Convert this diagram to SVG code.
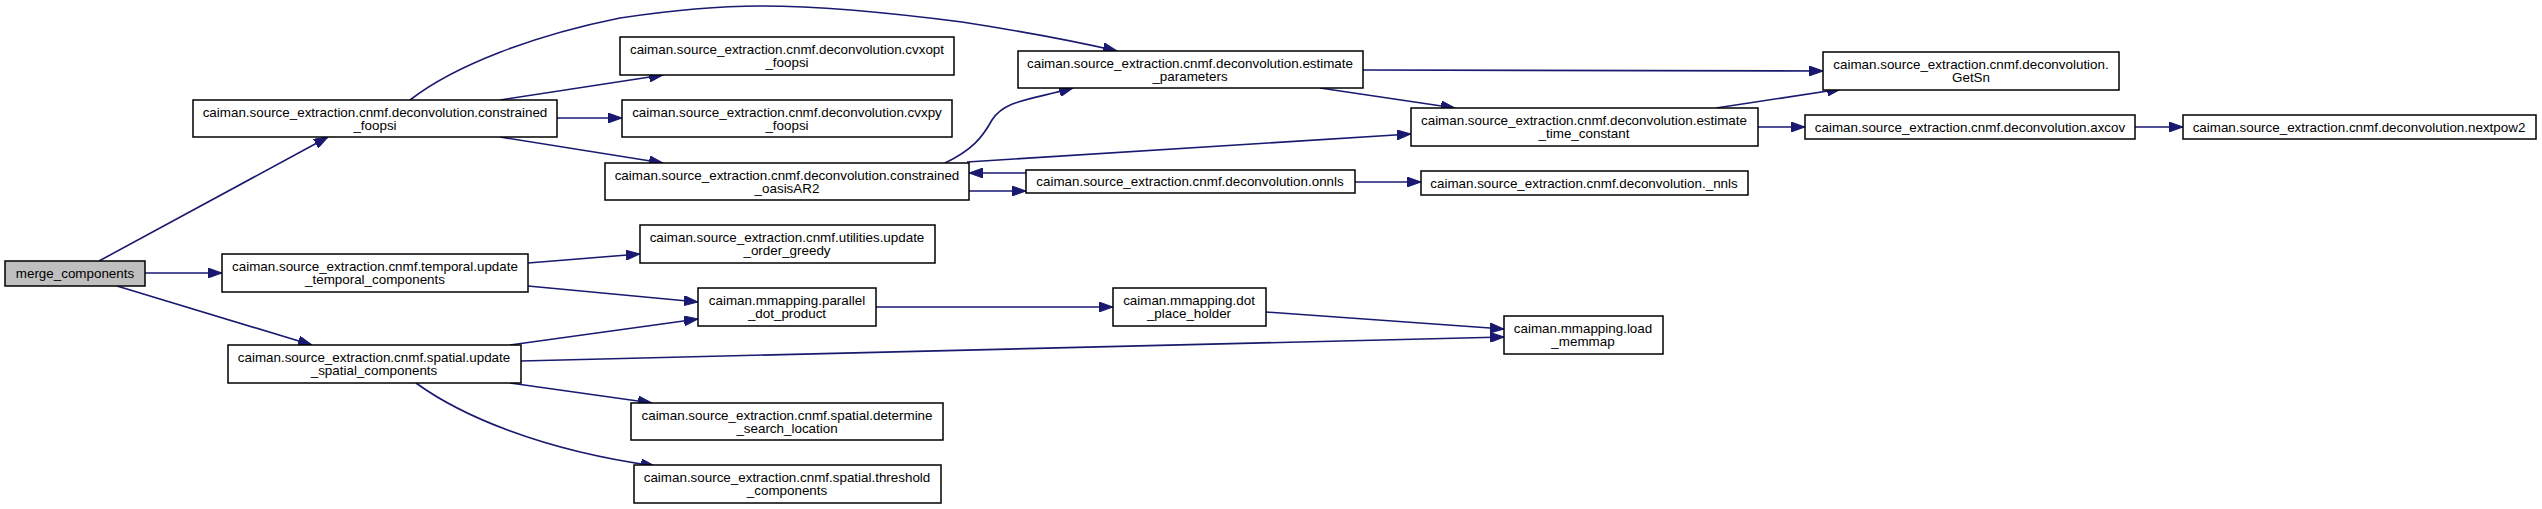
<svg xmlns="http://www.w3.org/2000/svg" width="2542" height="509" viewBox="0 0 2542 509">
<style>
.n rect{fill:#ffffff;stroke:#000000;stroke-width:1.5}
.n.root rect{fill:#bfbfbf}
.n text{font-family:"Liberation Sans",Arial,sans-serif;font-size:13.4px;fill:#000000;text-anchor:middle}
.e path{fill:none;stroke:#191970;stroke-width:1.6;marker-end:url(#arr)}
</style>
<defs>
<marker id="arr" markerUnits="userSpaceOnUse" markerWidth="15" markerHeight="10" refX="14" refY="5" orient="auto">
<path d="M0,0 L14,5 L0,10 z" fill="#191970" stroke="#191970" stroke-width="1"/>
</marker>
</defs>
<rect width="2542" height="509" fill="#ffffff"/>
<g id="connectors" class="e">
<path d="M99,261 L328,137"/>
<path d="M145,273 L222,273"/>
<path d="M117,286 L312,345"/>
<path d="M500,100 L663,75"/>
<path d="M557,118 L622,118"/>
<path d="M500,137 L663,163"/>
<path d="M410,100 C455,65 535,35 620,18 C680,9 720,6 760,6 C830,6 900,14 962,22 C1020,31 1070,40 1117,51"/>
<path d="M945,163 C972,150 982,138 992,120 C1005,100 1030,100 1073,88"/>
<path d="M967,162 L1411,134"/>
<path d="M969,191 L1026,191"/>
<path d="M1026,173 L969,173"/>
<path d="M1355,182 L1421,182"/>
<path d="M1363,70 L1823,71"/>
<path d="M1320,88 L1455,108"/>
<path d="M1716,108 L1841,89"/>
<path d="M1758,127 L1805,127"/>
<path d="M2135,127 L2183,127"/>
<path d="M528,263 L640,254"/>
<path d="M528,286 L698,302"/>
<path d="M510,345 L698,319"/>
<path d="M521,361 L1504,337"/>
<path d="M510,383 L652,403"/>
<path d="M416,383 C460,415 540,450 655,466"/>
<path d="M876,307 L1113,307"/>
<path d="M1266,312 L1504,329"/>
</g>
<g id="merge_components" class="n root"><rect x="5" y="261" width="140" height="25"/><text x="75" y="278">merge_components</text></g>
<g id="constrained_foopsi" class="n"><rect x="193" y="100" width="364" height="37"/><text x="375" y="117">caiman.source_extraction.cnmf.deconvolution.constrained</text><text x="375" y="130">_foopsi</text></g>
<g id="cvxopt_foopsi" class="n"><rect x="620" y="37" width="334" height="38"/><text x="787" y="54">caiman.source_extraction.cnmf.deconvolution.cvxopt</text><text x="787" y="67">_foopsi</text></g>
<g id="cvxpy_foopsi" class="n"><rect x="622" y="100" width="330" height="37"/><text x="787" y="117">caiman.source_extraction.cnmf.deconvolution.cvxpy</text><text x="787" y="130">_foopsi</text></g>
<g id="constrained_oasisAR2" class="n"><rect x="605" y="163" width="364" height="37"/><text x="787" y="180">caiman.source_extraction.cnmf.deconvolution.constrained</text><text x="787" y="193">_oasisAR2</text></g>
<g id="update_order_greedy" class="n"><rect x="640" y="225" width="295" height="38"/><text x="787" y="242">caiman.source_extraction.cnmf.utilities.update</text><text x="787" y="255">_order_greedy</text></g>
<g id="update_temporal_components" class="n"><rect x="222" y="254" width="306" height="38"/><text x="375" y="271">caiman.source_extraction.cnmf.temporal.update</text><text x="375" y="284">_temporal_components</text></g>
<g id="parallel_dot_product" class="n"><rect x="698" y="288" width="178" height="38"/><text x="787" y="305">caiman.mmapping.parallel</text><text x="787" y="318">_dot_product</text></g>
<g id="update_spatial_components" class="n"><rect x="228" y="345" width="293" height="38"/><text x="374" y="362">caiman.source_extraction.cnmf.spatial.update</text><text x="374" y="375">_spatial_components</text></g>
<g id="determine_search_location" class="n"><rect x="631" y="403" width="312" height="37"/><text x="787" y="420">caiman.source_extraction.cnmf.spatial.determine</text><text x="787" y="433">_search_location</text></g>
<g id="threshold_components" class="n"><rect x="634" y="465" width="307" height="38"/><text x="787" y="482">caiman.source_extraction.cnmf.spatial.threshold</text><text x="787" y="495">_components</text></g>
<g id="estimate_parameters" class="n"><rect x="1018" y="51" width="345" height="37"/><text x="1190" y="68">caiman.source_extraction.cnmf.deconvolution.estimate</text><text x="1190" y="81">_parameters</text></g>
<g id="estimate_time_constant" class="n"><rect x="1411" y="108" width="347" height="38"/><text x="1584" y="125">caiman.source_extraction.cnmf.deconvolution.estimate</text><text x="1584" y="138">_time_constant</text></g>
<g id="onnls" class="n"><rect x="1026" y="170" width="329" height="23"/><text x="1190" y="186">caiman.source_extraction.cnmf.deconvolution.onnls</text></g>
<g id="nnls" class="n"><rect x="1421" y="171" width="327" height="24"/><text x="1584" y="187.5">caiman.source_extraction.cnmf.deconvolution._nnls</text></g>
<g id="GetSn" class="n"><rect x="1823" y="52" width="296" height="38"/><text x="1971" y="69">caiman.source_extraction.cnmf.deconvolution.</text><text x="1971" y="82">GetSn</text></g>
<g id="axcov" class="n"><rect x="1805" y="115" width="330" height="24"/><text x="1970" y="131.5">caiman.source_extraction.cnmf.deconvolution.axcov</text></g>
<g id="nextpow2" class="n"><rect x="2183" y="115" width="353" height="24"/><text x="2359" y="131.5">caiman.source_extraction.cnmf.deconvolution.nextpow2</text></g>
<g id="dot_place_holder" class="n"><rect x="1113" y="288" width="153" height="38"/><text x="1189" y="305">caiman.mmapping.dot</text><text x="1189" y="318">_place_holder</text></g>
<g id="load_memmap" class="n"><rect x="1504" y="316" width="159" height="38"/><text x="1583" y="333">caiman.mmapping.load</text><text x="1583" y="346">_memmap</text></g>
</svg>
